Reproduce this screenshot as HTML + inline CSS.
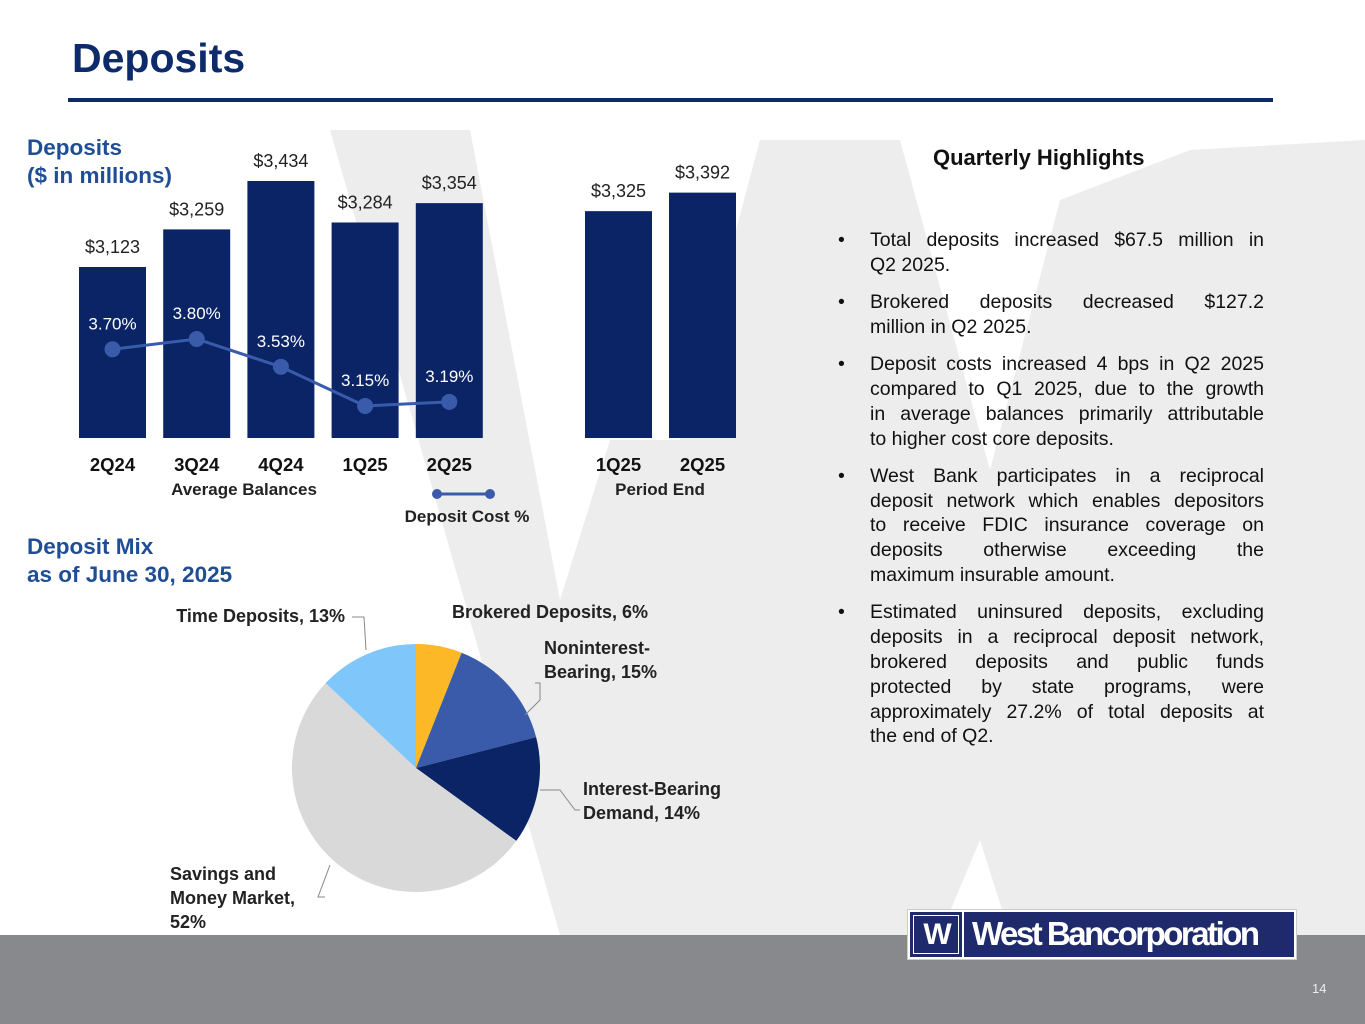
<!DOCTYPE html>
<html><head><meta charset="utf-8"><style>
body{margin:0;width:1365px;height:1024px;position:relative;overflow:hidden;background:#fff;font-family:"Liberation Sans",Arial,sans-serif}
.a{position:absolute}
.b{display:flex;margin-bottom:12.5px}.b>span:first-child{width:32px;flex:none}
.l{display:block;text-align:justify;text-align-last:justify;white-space:nowrap}
.l.e{text-align-last:left}
</style></head><body>
<svg class="a" style="left:0;top:0" width="1365" height="1024">
<polygon points="330,130 470,130 560,600 610,440 680,440 760,140 900,140 990,470 1060,200 1190,150 1365,140 1365,935 1010,935 980,840 940,935 560,935" fill="#ededed"/>
<rect x="0" y="935" width="1365" height="89" fill="#88898d"/>
</svg>
<div class="a" style="left:72px;top:35px;font-size:41px;font-weight:bold;color:#0d2a6b">Deposits</div>
<div class="a" style="left:68px;top:98px;width:1205px;height:4px;background:#0d2a6b"></div>
<div class="a" style="left:27px;top:134px;font-size:22.5px;font-weight:bold;color:#1f4e96;line-height:28px">Deposits<br>($ in millions)</div>
<div class="a" style="left:27px;top:533px;font-size:22.5px;font-weight:bold;color:#1f4e96;line-height:28px">Deposit Mix<br>as of June 30, 2025</div>
<svg id="chart" class="a" style="left:0;top:0" width="800" height="540"></svg>
<svg id="pie" class="a" style="left:0;top:0" width="800" height="940"></svg>
<div class="a" style="left:933px;top:145px;font-size:22px;font-weight:bold;color:#111">Quarterly Highlights</div>
<div class="a" style="left:838px;top:228px;width:426px;font-size:19.5px;line-height:24.8px;color:#111">
<div class="b"><span>•</span><span style="flex:1"><span class="l">Total deposits increased $67.5 million in</span><span class="l e">Q2 2025.</span></span></div>
<div class="b"><span>•</span><span style="flex:1"><span class="l">Brokered deposits decreased $127.2</span><span class="l e">million in Q2 2025.</span></span></div>
<div class="b"><span>•</span><span style="flex:1"><span class="l">Deposit costs increased 4 bps in Q2 2025</span><span class="l">compared to Q1 2025, due to the growth</span><span class="l">in average balances primarily attributable</span><span class="l e">to higher cost core deposits.</span></span></div>
<div class="b"><span>•</span><span style="flex:1"><span class="l">West Bank participates in a reciprocal</span><span class="l">deposit network which enables depositors</span><span class="l">to receive FDIC insurance coverage on</span><span class="l">deposits otherwise exceeding the</span><span class="l e">maximum insurable amount.</span></span></div>
<div class="b"><span>•</span><span style="flex:1"><span class="l">Estimated uninsured deposits, excluding</span><span class="l">deposits in a reciprocal deposit network,</span><span class="l">brokered deposits and public funds</span><span class="l">protected by state programs, were</span><span class="l">approximately 27.2% of total deposits at</span><span class="l e">the end of Q2.</span></span></div>
</div>
<div class="a" style="left:908px;top:910px;width:388px;height:49px;background:#1e2a6b;border:2px solid #fff;box-sizing:border-box;outline:1px solid #ccc">
<div class="a" style="left:3px;top:3px;width:46px;height:39px;border:1px solid #fff;box-sizing:border-box;color:#fff;font-weight:bold;font-size:30px;text-align:center;line-height:38px;letter-spacing:-3px">W</div>
<div class="a" style="left:52px;top:0;width:2px;height:45px;background:#fff"></div>
<div class="a" style="left:62px;top:2px;color:#fff;font-weight:bold;font-size:33px;letter-spacing:-2.5px;line-height:40px">West Bancorporation</div>
</div>
<div class="a" style="left:1312px;top:981px;font-size:13px;color:#eee">14</div>
<script>
const NS='http://www.w3.org/2000/svg';
const categories=['2Q24','3Q24','4Q24','1Q25','2Q25','1Q25','2Q25'];
const balances=[3123,3259,3434,3284,3354,3325,3392];
const costCats=['2Q24','3Q24','4Q24','1Q25','2Q25'];
const costs=[3.70,3.80,3.53,3.15,3.19];
const pieLabels=['Brokered Deposits, 6%','Noninterest-Bearing, 15%','Interest-Bearing Demand, 14%','Savings and Money Market, 52%','Time Deposits, 13%'];
const pieValues=[6,15,14,52,13];
function mk(p,t,a,txt){const e=document.createElementNS(NS,t);for(const k in a)e.setAttribute(k,a[k]);if(txt!=null)e.textContent=txt;p.appendChild(e);return e;}
const ch=document.getElementById('chart');
const base=438,k=0.2765,vmin=3123-(438-267)/k;
const yB=v=>base-(v-vmin)*k;
const xB=i=>(i<5?79+i*84.2:585+(i-5)*84)+33.5;
const yC=v=>339+(3.80-v)*103;
balances.forEach((v,i)=>{
 const r=mk(ch,'rect',{x:xB(i)-33.5,y:yB(v),width:67,height:base-yB(v),fill:'#0a2466'});
 
 
 const t=mk(ch,'text',{x:xB(i),y:yB(v)-14,'text-anchor':'middle','font-size':18,fill:'#222'},'$'+v.toLocaleString('en-US'));
 
 
 const c=mk(ch,'text',{x:xB(i),y:471,'text-anchor':'middle','font-size':18.5,'font-weight':'bold',fill:'#111'},categories[i]);
 
 
});
const pts=costs.map((v,i)=>xB(i)+','+yC(v)).join(' ');
const pl=mk(ch,'polyline',{points:pts,fill:'none',stroke:'#3a5ba9','stroke-width':3});


costs.forEach((v,i)=>{
 const c=mk(ch,'circle',{cx:xB(i),cy:yC(v),r:8,fill:'#3a5ba9'});
 
 
 const t=mk(ch,'text',{x:xB(i),y:yC(v)-20,'text-anchor':'middle','font-size':17,fill:'#fff'},v.toFixed(2)+'%');
 
 
});
[['Average Balances',244,495],['Period End',660,495]].forEach(([s,x,y])=>{const t=mk(ch,'text',{x:x,y:y,'text-anchor':'middle','font-size':17,'font-weight':'bold',fill:'#222'},s);});
const lg=mk(ch,'g',{});


mk(lg,'line',{x1:437,y1:494,x2:490,y2:494,stroke:'#3a5ba9','stroke-width':3});
mk(lg,'circle',{cx:437,cy:494,r:5,fill:'#3a5ba9'});mk(lg,'circle',{cx:490,cy:494,r:5,fill:'#3a5ba9'});
mk(lg,'text',{x:467,y:522,'text-anchor':'middle','font-size':17,'font-weight':'bold',fill:'#222'},'Deposit Cost  %');
const pe=document.getElementById('pie');
const cx=416,cy=768,R=124;
const colors=['#fdb827','#3a5ba9','#0a2466','#d9d9d9','#7fc6fb'];
const tot=pieValues.reduce((a,b)=>a+b,0);let ang=0;
pieValues.forEach((v,i)=>{
 const a0=ang,a1=ang+v/tot*2*Math.PI;ang=a1;
 const p=(a)=>[cx+R*Math.sin(a),cy-R*Math.cos(a)];
 const [x0,y0]=p(a0),[x1,y1]=p(a1);
 const s=mk(pe,'path',{d:`M${cx},${cy}L${x0},${y0}A${R},${R} 0 ${a1-a0>Math.PI?1:0} 1 ${x1},${y1}Z`,fill:colors[i]});
 
 
});
const labs=[[ [452,618],'start',['Brokered Deposits, 6%'] ],[ [544,654],'start',['Noninterest-','Bearing, 15%'] ],[ [583,795],'start',['Interest-Bearing','Demand, 14%'] ],[ [170,880],'start',['Savings and','Money Market,','52%'] ],[ [345,622],'end',['Time Deposits, 13%'] ]];
labs.forEach(([[x,y],an,lines],i)=>{
 const t=mk(pe,'text',{x:x,y:y,'text-anchor':an,'font-size':18,'font-weight':'bold',fill:'#222'});
 lines.forEach((l,j)=>mk(t,'tspan',{x:x,dy:j?24:0},l));
 
 
});
[[`M535,683 L540,683 L540,700 L525,715`],[`M540,790 L560,790 L575,810 L580,810`],[`M325,897 L318,897 L330,865`],[`M352,617 L364,617 L366,650`]].forEach(d=>{mk(pe,'path',{d:d[0],fill:'none',stroke:'#888','stroke-width':1});});
</script>
</body></html>
